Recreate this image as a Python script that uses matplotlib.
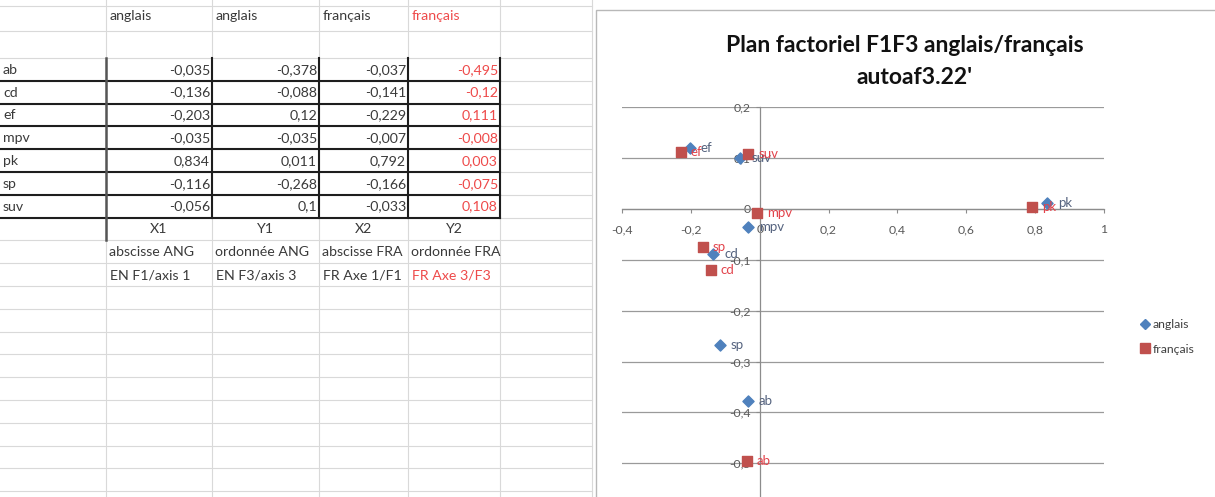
import numpy as np
import matplotlib
matplotlib.use('Agg')
import matplotlib.pyplot as plt
from matplotlib.lines import Line2D
from matplotlib.patches import Rectangle
from matplotlib.ticker import FuncFormatter

# Data (as read from the sheet)
categories = ['ab', 'cd', 'ef', 'mpv', 'pk', 'sp', 'suv']
x_ang = [-0.035, -0.136, -0.203, -0.035, 0.834, -0.116, -0.056]   # X1 abscisse ANG
y_ang = [-0.378, -0.088, 0.12, -0.035, 0.011, -0.268, 0.1]        # Y1 ordonnee ANG
x_fra = [-0.037, -0.141, -0.229, -0.007, 0.792, -0.166, -0.033]   # X2 abscisse FRA
y_fra = [-0.495, -0.12, 0.111, -0.008, 0.003, -0.075, 0.108]      # Y2 ordonnee FRA

header_row = ['anglais', 'anglais', 'français', 'français']
axis_row = ['X1', 'Y1', 'X2', 'Y2']
desc_row = ['abscisse ANG', 'ordonnée ANG', 'abscisse FRA', 'ordonnée FRA']
desc_row2 = ['EN F1/axis 1', 'EN F3/axis 3', 'FR Axe 1/F1', 'FR Axe 3/F3']
series_names = ['anglais', 'français']

title = "Plan factoriel F1F3 anglais/français\nautoaf3.22'"

BLUE = '#4f81bd'
RED = '#c0504d'
RED_TXT = '#ee4a4a'
TXT = '#3a3a3a'
GRID_SHEET = '#d9d9d9'

plt.rcParams['font.family'] = ['Lato', 'DejaVu Sans']

W, H = 1215, 497
fig = plt.figure(figsize=(W / 100, H / 100), dpi=100)
fig.patch.set_facecolor('white')

# ---- spreadsheet part, drawn in pixel coordinates ----
bg = fig.add_axes([0, 0, 1, 1])
bg.set_xlim(0, W)
bg.set_ylim(H, 0)
bg.axis('off')

col_edges = [0, 106, 212, 319, 408, 500, 592]
row_h = 22.8
row_lines = np.concatenate([[6, 31], np.arange(58, H + row_h, row_h)])

for yl in row_lines:
    bg.plot([0, col_edges[-1]], [yl, yl], color=GRID_SHEET, lw=0.8, zorder=1)
for xl in col_edges[1:]:
    bg.plot([xl, xl], [0, H], color=GRID_SHEET, lw=0.8, zorder=1)

def row_text_y(i):
    # text sits near the bottom of its row, like in Excel
    return row_lines[i + 1] - 11

fs = 10.2
# header
for j, name in enumerate(header_row):
    c = RED_TXT if j == 3 else TXT
    bg.text(col_edges[j + 1] + 4, 16, name, color=c, fontsize=fs, va='center')

# data rows
cols = [x_ang, y_ang, x_fra, y_fra]
first = 2
for i, cat in enumerate(categories):
    r = first + i
    bg.text(3, row_text_y(r), cat, color=TXT, fontsize=fs, va='center')
    for j, col in enumerate(cols):
        s = f"{col[i]:g}".replace('.', ',')
        c = RED_TXT if j == 3 else TXT
        bg.text(col_edges[j + 2] - 2, row_text_y(r), s, color=c, fontsize=fs,
                va='center', ha='right')
    # thick bottom border
    bg.plot([0, col_edges[5]], [row_lines[r + 1]] * 2, color='#1e1e1e', lw=1.5, zorder=3)

top_tab = row_lines[first]
bot_tab = row_lines[first + len(categories)]
for xl in col_edges[2:6]:
    bg.plot([xl, xl], [top_tab, bot_tab], color='#1e1e1e', lw=1.5, zorder=3)
bg.plot([col_edges[1]] * 2, [top_tab, row_lines[first + len(categories) + 1]],
        color='#555555', lw=1.8, zorder=3)

r = first + len(categories)
for j, name in enumerate(axis_row):
    bg.text((col_edges[j + 1] + col_edges[j + 2]) / 2, row_text_y(r), name,
            color=TXT, fontsize=fs, va='center', ha='center')
for j, name in enumerate(desc_row):
    bg.text(col_edges[j + 1] + 3, row_text_y(r + 1), name, color=TXT, fontsize=fs, va='center')
for j, name in enumerate(desc_row2):
    c = RED_TXT if j == 3 else TXT
    bg.text(col_edges[j + 1] + 4, row_text_y(r + 2), name, color=c, fontsize=fs, va='center')

# chart area frame
bg.add_patch(Rectangle((596, 10), W - 596 + 5, H, facecolor='white',
                       edgecolor='#b8b8b8', lw=1.0, zorder=4))

t1, t2 = title.split('\n')
bg.text(905, 45, t1, fontsize=16.5, fontweight='bold', color='#111111',
        ha='center', va='center', zorder=5)
bg.text(915, 78, t2, fontsize=16.5, fontweight='bold', color='#111111',
        ha='center', va='center', zorder=5)

# ---- scatter chart ----
px_left, px_right = 622, 1104
px_top, px_bot = 107, 107 + 8 * 50.9
ax = fig.add_axes([px_left / W, 1 - px_bot / H, (px_right - px_left) / W,
                   (px_bot - px_top) / H], zorder=6)
ax.patch.set_alpha(0)
ax.set_xlim(-0.4, 1.0)
ax.set_ylim(-0.6, 0.2)
ax.set_xticks(np.arange(-0.4, 1.01, 0.2))
ax.set_yticks(np.arange(-0.5, 0.21, 0.1))  # -0,6 lies below the visible crop

def comma_fmt(v, pos):
    if abs(v) < 1e-9:
        return '0'
    s = f"{v:.1f}".rstrip('0').rstrip('.')
    return s.replace('.', ',')

ax.xaxis.set_major_formatter(FuncFormatter(comma_fmt))
ax.yaxis.set_major_formatter(FuncFormatter(comma_fmt))

for side in ['top', 'right']:
    ax.spines[side].set_visible(False)
ax.spines['left'].set_position(('data', 0))
ax.spines['bottom'].set_position(('data', 0))
for side in ['left', 'bottom']:
    ax.spines[side].set_color('#8c8c8c')
    ax.spines[side].set_linewidth(0.9)
ax.tick_params(axis='both', colors='#8c8c8c', labelcolor='#595959', labelsize=8.8,
               direction='out', length=3, width=0.8)
ax.tick_params(axis='x', pad=8)
ax.grid(axis='y', color='#9a9a9a', lw=0.9)
ax.set_axisbelow(True)

ax.scatter(x_ang, y_ang, marker='D', s=32, color=BLUE, zorder=3, label=series_names[0])
ax.scatter(x_fra, y_fra, marker='s', s=60, color=RED, zorder=3, label=series_names[1])

for xi, yi, cat in zip(x_ang, y_ang, categories):
    ax.annotate(cat, (xi, yi), xytext=(8, 0), textcoords='offset points',
                va='center', fontsize=9.5, color='#55637f', zorder=4)
for xi, yi, cat in zip(x_fra, y_fra, categories):
    ax.annotate(cat, (xi, yi), xytext=(7, 0), textcoords='offset points',
                va='center', fontsize=9.5, color='#e2434b', zorder=4)

handles = [Line2D([], [], marker='D', ls='', color=BLUE, ms=5),
           Line2D([], [], marker='s', ls='', color=RED, ms=7)]
fig.legend(handles, series_names, loc='center left',
           bbox_to_anchor=(1128 / W, 1 - 337 / H), frameon=False, fontsize=8.8,
           handletextpad=0.1, labelspacing=1.1, handlelength=1.0,
           labelcolor='#404040')

fig.savefig('out.png', dpi=100)
